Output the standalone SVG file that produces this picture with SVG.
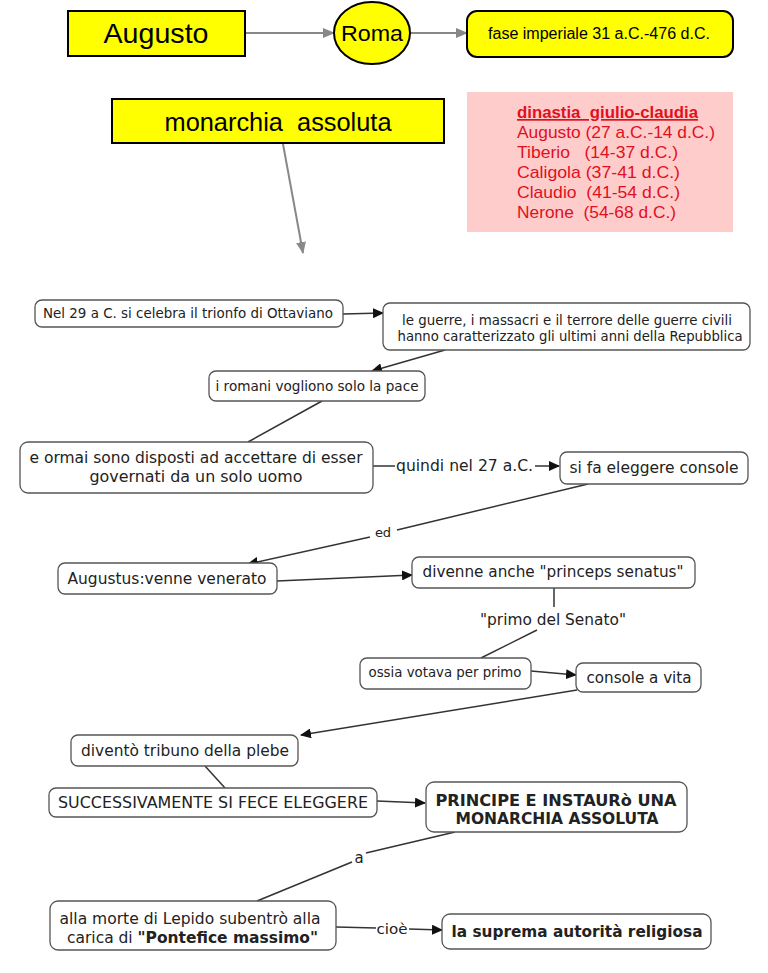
<svg xmlns="http://www.w3.org/2000/svg" width="768" height="973" viewBox="0 0 768 973">
<defs>
<style>
.ybox{fill:#ffff00;stroke:#000;stroke-width:2}
.node{fill:#fff;stroke:#555;stroke-width:1.3}
.t{font-family:"DejaVu Sans",Verdana,sans-serif;fill:#222;text-anchor:middle}
.ts{font-family:"DejaVu Sans",Verdana,sans-serif;fill:#222;text-anchor:start}
.tt{font-family:"Liberation Sans",Arial,sans-serif;fill:#000;text-anchor:middle}
.red{font-family:"Liberation Sans",Arial,sans-serif;fill:#e01020;font-size:17px}
.g{stroke:#888;stroke-width:2;fill:none}
.k{stroke:#333;stroke-width:1.5;fill:none}
.b{font-weight:bold}
</style>
<marker id="ag" markerWidth="12" markerHeight="10" refX="11" refY="5" orient="auto" markerUnits="userSpaceOnUse"><path d="M0,0 L12,5 L0,10 Z" fill="#888"/></marker>
<marker id="ak" markerWidth="11" markerHeight="10" refX="10" refY="5" orient="auto" markerUnits="userSpaceOnUse"><path d="M0,0 L11,5 L0,10 Z" fill="#111"/></marker>
</defs>
<rect width="768" height="973" fill="#fff"/>

<g id="connectors">
<line class="g" x1="245" y1="33" x2="334" y2="33" marker-end="url(#ag)"/>
<line class="g" x1="410" y1="33" x2="467" y2="33" marker-end="url(#ag)"/>
<line class="g" x1="283" y1="144" x2="303" y2="253" marker-end="url(#ag)"/>

<line class="k" x1="343" y1="314" x2="383" y2="313" marker-end="url(#ak)"/>
<line class="k" x1="445" y1="350" x2="372" y2="371" marker-end="url(#ak)"/>
<line class="k" x1="322" y1="401" x2="248" y2="442"/>
<line class="k" x1="373" y1="466" x2="395" y2="466"/>
<line class="k" x1="535" y1="466" x2="559" y2="466" marker-end="url(#ak)"/>
<line class="k" x1="588" y1="484" x2="397" y2="530"/>
<line class="k" x1="370" y1="537" x2="248" y2="564" marker-end="url(#ak)"/>
<line class="k" x1="277" y1="581" x2="412" y2="575" marker-end="url(#ak)"/>
<line class="k" x1="554" y1="588" x2="554" y2="607"/>
<line class="k" x1="537" y1="630" x2="481" y2="658"/>
<line class="k" x1="531" y1="671" x2="576" y2="675" marker-end="url(#ak)"/>
<line class="k" x1="577" y1="690" x2="301" y2="735" marker-end="url(#ak)"/>
<line class="k" x1="205" y1="766" x2="225" y2="788"/>
<line class="k" x1="377" y1="801" x2="425" y2="803" marker-end="url(#ak)"/>
<line class="k" x1="455" y1="832" x2="366" y2="853"/>
<line class="k" x1="352" y1="862" x2="257" y2="901"/>
<line class="k" x1="336" y1="927" x2="376" y2="928"/>
<line class="k" x1="409" y1="929" x2="442" y2="930" marker-end="url(#ak)"/>
<text class="t" x="383" y="537" font-size="13">ed</text>
<text class="ts" x="396" y="471" font-size="15" textLength="137" lengthAdjust="spacingAndGlyphs">quindi nel 27 a.C.</text>
<text class="t" x="553" y="625" font-size="15" textLength="146" lengthAdjust="spacingAndGlyphs">"primo del Senato"</text>
<text class="t" x="359" y="863" font-size="15">a</text>
<text class="t" x="392" y="934" font-size="14" textLength="31" lengthAdjust="spacingAndGlyphs">cioè</text>
</g>

<g id="augusto">
<rect class="ybox" x="68" y="11" width="177" height="45"/>
<text class="tt" x="156" y="43" font-size="28" textLength="105" lengthAdjust="spacingAndGlyphs">Augusto</text>
</g>
<g id="roma">
<ellipse class="ybox" cx="372" cy="33" rx="38" ry="31"/>
<text class="tt" x="372" y="41" font-size="22" textLength="62" lengthAdjust="spacingAndGlyphs">Roma</text>
</g>
<g id="fase">
<rect class="ybox" x="467" y="11" width="266" height="46" rx="10"/>
<text class="tt" x="599" y="39" font-size="16" textLength="222" lengthAdjust="spacingAndGlyphs">fase imperiale 31 a.C.-476 d.C.</text>
</g>
<g id="monarchia">
<rect class="ybox" x="112" y="99" width="332" height="44"/>
<text class="tt" x="278" y="131" font-size="25" textLength="227" lengthAdjust="spacingAndGlyphs" xml:space="preserve">monarchia  assoluta</text>
</g>
<g id="dinastia">
<rect x="467" y="92" width="266" height="140" fill="#ffcccc"/>
<text class="red b" x="517" y="118" textLength="181" lengthAdjust="spacingAndGlyphs" text-decoration="underline" xml:space="preserve">dinastia  giulio-claudia</text>
<text class="red" x="517" y="138" textLength="198" lengthAdjust="spacingAndGlyphs">Augusto (27 a.C.-14 d.C.)</text>
<text class="red" x="517" y="158" textLength="161" lengthAdjust="spacingAndGlyphs" xml:space="preserve">Tiberio   (14-37 d.C.)</text>
<text class="red" x="517" y="178" textLength="163" lengthAdjust="spacingAndGlyphs">Caligola (37-41 d.C.)</text>
<text class="red" x="517" y="198" textLength="163" lengthAdjust="spacingAndGlyphs" xml:space="preserve">Claudio  (41-54 d.C.)</text>
<text class="red" x="517" y="218" textLength="159" lengthAdjust="spacingAndGlyphs" xml:space="preserve">Nerone  (54-68 d.C.)</text>
</g>

<g id="n1">
<rect class="node" x="35" y="300" width="308" height="27" rx="7"/>
<text class="t" x="188" y="318" font-size="14" textLength="290" lengthAdjust="spacingAndGlyphs">Nel 29 a C. si celebra il trionfo di Ottaviano</text>
</g>
<g id="n2">
<rect class="node" x="383" y="303" width="367" height="47" rx="7"/>
<text class="t" x="567" y="325" font-size="14" textLength="330" lengthAdjust="spacingAndGlyphs">le guerre, i massacri e il terrore delle guerre civili</text>
<text class="t" x="570" y="341" font-size="14" textLength="345" lengthAdjust="spacingAndGlyphs">hanno caratterizzato gli ultimi anni della Repubblica</text>
</g>
<g id="n3">
<rect class="node" x="209" y="371" width="216" height="30" rx="7"/>
<text class="t" x="317" y="391" font-size="14" textLength="203" lengthAdjust="spacingAndGlyphs">i romani vogliono solo la pace</text>
</g>
<g id="n4">
<rect class="node" x="20" y="442" width="353" height="51" rx="8"/>
<text class="t" x="196" y="463" font-size="16" textLength="333" lengthAdjust="spacingAndGlyphs">e ormai sono disposti ad accettare di esser</text>
<text class="t" x="196" y="482" font-size="16" textLength="213" lengthAdjust="spacingAndGlyphs">governati da un solo uomo</text>
</g>
<g id="n5">
<rect class="node" x="560" y="452" width="188" height="32" rx="7"/>
<text class="t" x="654" y="473" font-size="16" textLength="169" lengthAdjust="spacingAndGlyphs">si fa eleggere console</text>
</g>
<g id="n6">
<rect class="node" x="58" y="563" width="219" height="31" rx="7"/>
<text class="t" x="167" y="584" font-size="15" textLength="199" lengthAdjust="spacingAndGlyphs">Augustus:venne venerato</text>
</g>
<g id="n7">
<rect class="node" x="412" y="557" width="283" height="31" rx="7"/>
<text class="t" x="553" y="577" font-size="15" textLength="261" lengthAdjust="spacingAndGlyphs">divenne anche "princeps senatus"</text>
</g>
<g id="n8">
<rect class="node" x="360" y="658" width="171" height="31" rx="7"/>
<text class="t" x="445" y="677" font-size="14" textLength="153" lengthAdjust="spacingAndGlyphs">ossia votava per primo</text>
</g>
<g id="n9">
<rect class="node" x="576" y="663" width="125" height="29" rx="7"/>
<text class="t" x="639" y="683" font-size="16" textLength="105" lengthAdjust="spacingAndGlyphs">console a vita</text>
</g>
<g id="n10">
<rect class="node" x="71" y="735" width="227" height="31" rx="7"/>
<text class="t" x="185" y="756" font-size="16" textLength="208" lengthAdjust="spacingAndGlyphs">diventò tribuno della plebe</text>
</g>
<g id="n11">
<rect class="node" x="49" y="788" width="328" height="29" rx="7"/>
<text class="t" x="213" y="808" font-size="15" textLength="310" lengthAdjust="spacingAndGlyphs">SUCCESSIVAMENTE SI FECE ELEGGERE</text>
</g>
<g id="n12">
<rect class="node" x="426" y="782" width="261" height="50" rx="8"/>
<text class="t b" x="556" y="806" font-size="16" textLength="241" lengthAdjust="spacingAndGlyphs">PRINCIPE E INSTAURò UNA</text>
<text class="t b" x="557" y="824" font-size="16" textLength="203" lengthAdjust="spacingAndGlyphs">MONARCHIA ASSOLUTA</text>
</g>
<g id="n13">
<rect class="node" x="50" y="901" width="286" height="49" rx="8"/>
<text class="t" x="190" y="924" font-size="16" textLength="261" lengthAdjust="spacingAndGlyphs">alla morte di Lepido subentrò alla</text>
<text class="ts" x="67" y="943" font-size="16" textLength="251" lengthAdjust="spacingAndGlyphs">carica di <tspan class="b">"Pontefice massimo"</tspan></text>
</g>
<g id="n14">
<rect class="node" x="442" y="914" width="269" height="35" rx="8"/>
<text class="t b" x="577" y="937" font-size="16" textLength="251" lengthAdjust="spacingAndGlyphs">la suprema autorità religiosa</text>
</g>
</svg>
